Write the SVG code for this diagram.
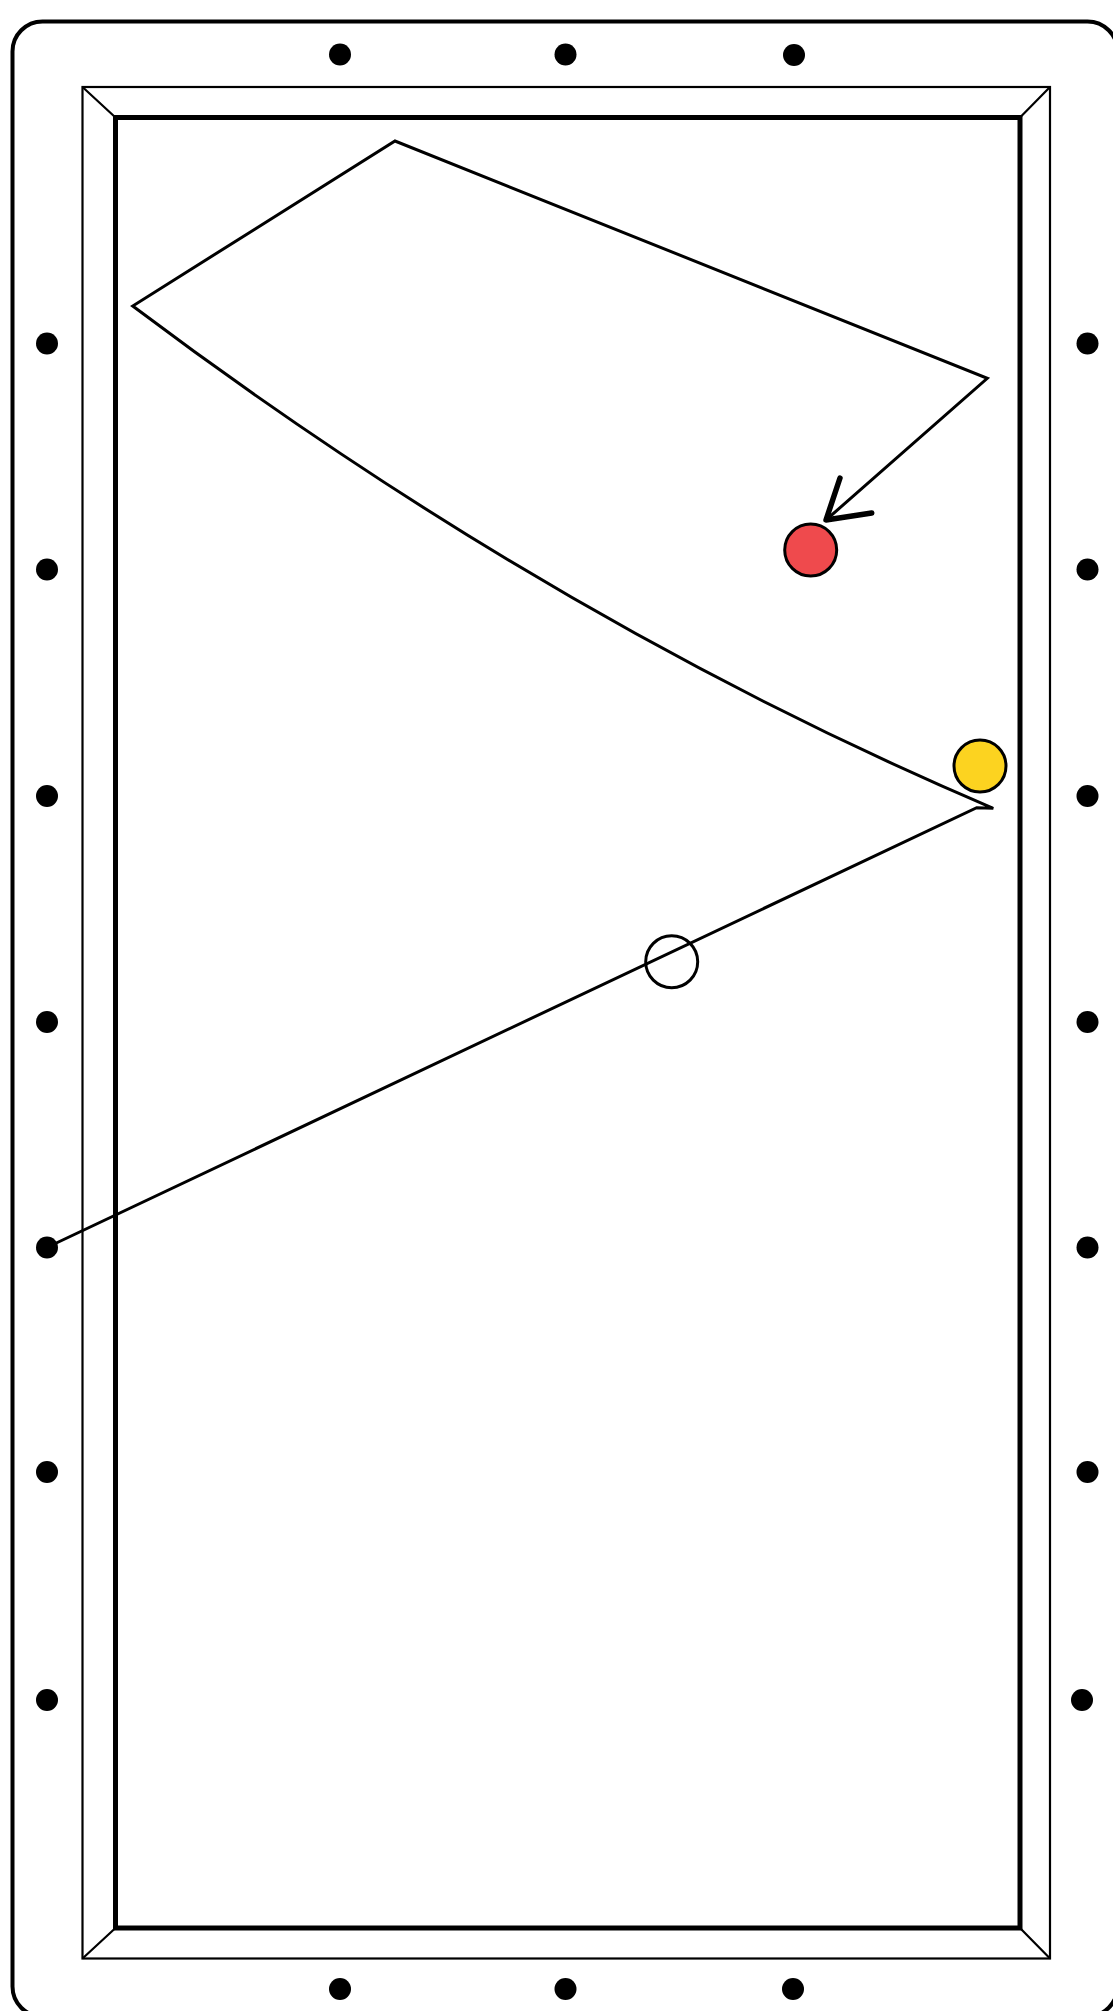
<svg xmlns="http://www.w3.org/2000/svg" width="1113" height="2011" viewBox="0 0 1113 2011">
  <style>
    .frame { fill: none; stroke: #000; stroke-width: 4; }
    .cushion { fill: none; stroke: #000; stroke-width: 2.2; }
    .bed { fill: none; stroke: #000; stroke-width: 5; }
    .diamond { fill: #000; stroke: none; }
    .ball { stroke: #000; stroke-width: 3; }
    .track { fill: none; stroke: #000; stroke-width: 3; stroke-linejoin: miter; stroke-linecap: round; }
    .head { fill: none; stroke: #000; stroke-width: 5.5; stroke-linecap: round; stroke-linejoin: round; }
  </style>
  <rect width="1113" height="2011" fill="#fff"/>
  <g id="table">
    <rect class="frame" x="12.5" y="21.5" width="1105" height="1995" rx="30" ry="30"/>
    <rect class="cushion" x="82.5" y="87" width="967.5" height="1871.5"/>
    <rect class="bed" x="115.5" y="117.5" width="904.5" height="1810.5"/>
    <path class="cushion" d="M82.5 87 L115.5 117.5 M1050 87 L1020 117.5 M82.5 1958.5 L115.5 1928 M1050 1958.5 L1020 1928"/>
  </g>
  <g id="diamonds">
    <circle class="diamond" cx="340" cy="54.5" r="11"/>
    <circle class="diamond" cx="565.5" cy="54.5" r="11"/>
    <circle class="diamond" cx="794" cy="55" r="11"/>
    <circle class="diamond" cx="340" cy="1989" r="11"/>
    <circle class="diamond" cx="565.5" cy="1989" r="11"/>
    <circle class="diamond" cx="793" cy="1989" r="11"/>
    <circle class="diamond" cx="47" cy="343.5" r="11"/>
    <circle class="diamond" cx="47" cy="569.5" r="11"/>
    <circle class="diamond" cx="47" cy="796" r="11"/>
    <circle class="diamond" cx="47" cy="1022" r="11"/>
    <circle class="diamond" cx="47" cy="1247.5" r="11"/>
    <circle class="diamond" cx="47" cy="1472" r="11"/>
    <circle class="diamond" cx="47" cy="1700" r="11"/>
    <circle class="diamond" cx="1087.5" cy="343.5" r="11"/>
    <circle class="diamond" cx="1087.5" cy="569.5" r="11"/>
    <circle class="diamond" cx="1087.5" cy="796" r="11"/>
    <circle class="diamond" cx="1087.5" cy="1022" r="11"/>
    <circle class="diamond" cx="1087.5" cy="1247.5" r="11"/>
    <circle class="diamond" cx="1087.5" cy="1472" r="11"/>
    <circle class="diamond" cx="1082" cy="1700" r="11"/>
  </g>
  <g id="connectors">
    <path class="track" d="M50 1246 L976.7 807.7 L993.3 808.3 Q550 620 132.7 306 L395 141 L987.3 378.3 L826 520"/>
    <path class="head" d="M840 478 L826 520 L871.7 513"/>
  </g>
  <g id="red-ball">
    <circle class="ball" cx="810.7" cy="550" r="26" fill="#EF4A4D"/>
  </g>
  <g id="yellow-ball">
    <circle class="ball" cx="980" cy="766" r="26" fill="#FCD320"/>
  </g>
  <g id="cue-ball">
    <circle class="ball" cx="671.7" cy="961.7" r="26" fill="none" stroke-width="3.2"/>
  </g>
</svg>
